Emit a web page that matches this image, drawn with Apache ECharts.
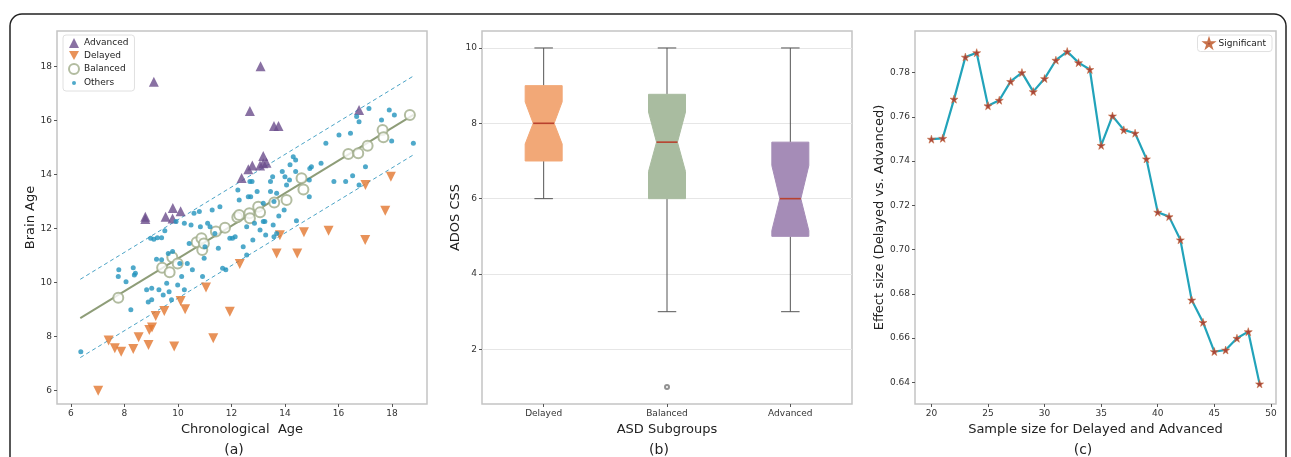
<!DOCTYPE html>
<html>
<head>
<meta charset="utf-8">
<script src="https://cdn.jsdelivr.net/npm/echarts@6/dist/echarts.min.js"></script>
<style>
  html, body { margin: 0; padding: 0; background: #fff; }
  #chart { width: 1291px; height: 457px; }
</style>
</head>
<body>
<div id="chart"></div>
<script>
// (a) brain age vs chronological age, [chronological, brain]
var advancedPts = [[9.10, 17.43], [13.09, 18.0], [12.69, 16.35], [13.59, 15.79], [13.76, 15.79], [16.77, 16.38],
    [8.78, 12.43], [8.78, 12.34], [9.54, 12.43], [9.81, 12.75], [9.80, 12.36], [10.10, 12.63],
    [12.38, 13.86], [12.63, 14.19], [12.78, 14.33], [13.19, 14.68], [13.19, 14.41], [13.31, 14.43], [13.07, 14.33]]
var delayedPts = [[7.02, 5.98], [7.41, 7.84], [7.64, 7.56], [7.88, 7.43], [8.33, 7.53], [8.53, 7.96], [8.90, 7.68],
    [8.93, 8.23], [9.03, 8.32], [9.17, 8.75], [9.49, 8.94], [9.86, 7.62], [10.10, 9.31], [10.27, 9.0],
    [11.05, 9.81], [11.32, 7.93], [11.94, 8.91], [12.31, 10.68], [13.69, 11.07], [13.81, 11.74],
    [14.46, 11.07], [14.71, 11.85], [15.63, 11.91], [17.0, 11.57], [17.01, 13.60], [17.75, 12.65], [17.96, 13.91]]
var balancedPts = [[7.77, 9.43], [9.41, 10.54], [9.69, 10.37], [9.79, 10.93], [9.99, 10.70], [10.70, 11.48],
    [10.88, 11.63], [10.91, 11.20], [10.97, 11.44], [11.42, 11.88], [11.76, 12.02], [12.22, 12.41],
    [12.29, 12.49], [12.67, 12.56], [12.69, 12.37], [13.0, 12.80], [13.07, 12.59], [13.60, 12.96],
    [14.06, 13.05], [14.62, 13.85], [14.69, 13.44], [16.37, 14.75], [16.74, 14.78], [17.09, 15.06],
    [17.65, 15.64], [17.68, 15.37], [18.67, 16.20]]
var otherPts = [[6.37, 7.43], [7.77, 10.21], [7.79, 10.46], [8.06, 10.02], [8.24, 8.98], [8.37, 10.27], [8.33, 10.54],
    [8.41, 10.33], [8.83, 9.72], [9.02, 9.78], [8.89, 9.27], [9.02, 9.35], [8.98, 11.63], [9.10, 11.59],
    [9.23, 11.65], [9.39, 11.65], [9.20, 10.85], [9.39, 10.83], [9.29, 9.72], [9.45, 9.53], [9.51, 11.91],
    [9.64, 11.07], [9.80, 11.14], [9.58, 9.96], [9.67, 9.65], [9.76, 9.35], [9.93, 12.25], [9.99, 9.90],
    [10.14, 10.21], [10.24, 9.72], [10.07, 10.70], [10.24, 12.19], [10.35, 10.70], [10.42, 11.44],
    [10.49, 12.12], [10.54, 10.46], [10.60, 12.56], [10.80, 12.62], [10.84, 12.06], [10.92, 10.21],
    [10.98, 10.89], [11.01, 11.32], [11.11, 12.19], [11.20, 12.06], [11.28, 12.68], [11.38, 11.81],
    [11.51, 11.26], [11.57, 12.80], [11.67, 10.52], [11.79, 10.46], [11.94, 11.63], [12.04, 11.63],
    [12.14, 11.69], [12.24, 13.42], [12.29, 13.05], [12.44, 11.32], [12.57, 12.06], [12.57, 11.01],
    [12.63, 13.17], [12.69, 13.73], [12.72, 13.17], [12.77, 13.73], [12.80, 11.57], [12.86, 12.19],
    [12.96, 13.36], [13.07, 11.94], [13.19, 12.25], [13.19, 12.93], [13.25, 12.25], [13.28, 11.75],
    [13.46, 13.73], [13.46, 13.36], [13.54, 13.91], [13.59, 12.99], [13.56, 12.12], [13.59, 11.69],
    [13.69, 11.81], [13.69, 13.30], [13.77, 12.46], [13.90, 14.10], [13.97, 12.68], [14.00, 13.91],
    [14.06, 13.60], [14.17, 13.79], [14.19, 14.35], [14.31, 14.65], [14.40, 14.10], [14.40, 14.53],
    [14.43, 12.28], [14.91, 13.79], [14.91, 13.17], [14.93, 14.22], [14.99, 14.28], [15.35, 14.41],
    [15.53, 15.15], [15.83, 13.73], [16.02, 15.46], [16.27, 13.73], [16.45, 15.52], [16.53, 13.95],
    [16.68, 16.14], [16.77, 15.95], [16.77, 13.60], [17.01, 14.28], [17.14, 16.44], [17.61, 16.01],
    [17.90, 16.38], [18.09, 16.20], [17.99, 15.23], [18.80, 15.15]]
var fitX = [6.35, 18.8]
var fitY = [8.67, 16.2]
var upperY = [10.11, 17.64]
var lowerY = [7.21, 14.72]
var ageTicks = [6, 8, 10, 12, 14, 16, 18]

// (b) ADOS CSS boxes
var groups = ['Delayed', 'Balanced', 'Advanced']
var boxLow = [6, 3, 3]
var boxQ1 = [7, 6, 5]
var notchLow = [7.45, 6.72, 5.15]
var boxMedian = [8, 7.5, 6]
var notchHigh = [8.57, 8.3, 6.88]
var boxQ3 = [9, 8.77, 7.5]
var boxHigh = [10, 10, 10]
var outliers = [['Balanced', 1]]
var adosTicks = [2, 4, 6, 8, 10]

// (c) effect size by sample size
var sampleSizes = [20, 21, 22, 23, 24, 25, 26, 27, 28, 29, 30, 31, 32, 33, 34, 35, 36, 37, 38, 39, 40, 41, 42, 43, 44, 45, 46, 47, 48, 49]
var effectSizes = [0.7499, 0.7503, 0.768, 0.787, 0.789, 0.765, 0.7675, 0.776, 0.780, 0.7714, 0.7773, 0.7856, 0.7895, 0.7845, 0.7814,
    0.7471, 0.7604, 0.7541, 0.7526, 0.741, 0.7169, 0.7149, 0.7044, 0.6772, 0.6671, 0.6539, 0.6546, 0.6599, 0.6629, 0.6393]
var sampleTicks = [20, 25, 30, 35, 40, 45, 50]
var effectTicks = [0.64, 0.66, 0.68, 0.70, 0.72, 0.74, 0.76, 0.78]

var FONT = 'DejaVu Sans'
var boxColors = ['#f2a877', '#a9bca0', '#a58cb7']
var starPath = 'path://M50,0 L61,35 L98,35 L68,57 L79,91 L50,70 L21,91 L32,57 L2,35 L39,35 Z'
var dotIcon = 'path://M0,0 M10,10 M3,5 A2,2 0 1 1 7,5 A2,2 0 1 1 3,5 Z'
var downTri = 'path://M0,0 L10,0 L5,9 Z'

function zip (xs, ys) {
    return xs.map(function (x, i) { return [x, ys[i]] })
}

function valueAxis (gridIndex, min, max, ticks, fmt) {
    return {
        type: 'value',
        gridIndex: gridIndex,
        min: min,
        max: max,
        axisLine: { show: false },
        axisTick: { show: true, length: 3, lineStyle: { color: '#555' }, customValues: ticks },
        axisLabel: { color: '#333', fontSize: 9, fontFamily: FONT, margin: 5, customValues: ticks, formatter: fmt },
        splitLine: { show: false },
        nameLocation: 'middle',
        nameTextStyle: { color: '#222', fontSize: 13, fontFamily: FONT }
    }
}

var chart = echarts.init(document.getElementById('chart'), null, { renderer: 'canvas' })

var xa = valueAxis(0, 5.48, 19.31, ageTicks)
xa.name = 'Chronological  Age'
xa.nameGap = 11
var ya = valueAxis(0, 5.49, 19.31, ageTicks)
ya.name = 'Brain Age'
ya.nameGap = 13

var yb = valueAxis(1, 0.55, 10.45, adosTicks)
yb.name = 'ADOS CSS'
yb.nameGap = 12
yb.splitLine = { show: true, lineStyle: { color: '#e6e6e6', width: 1 } }

var xc = valueAxis(2, 18.55, 50.45, sampleTicks)
xc.name = 'Sample size for Delayed and Advanced'
xc.nameGap = 11
var yc = valueAxis(2, 0.6302, 0.7988, effectTicks, function (v) { return v.toFixed(2) })
yc.name = 'Effect size (Delayed vs. Advanced)'
yc.nameGap = 24

var xb = {
    type: 'category',
    gridIndex: 1,
    data: groups,
    boundaryGap: true,
    axisLine: { show: false },
    axisTick: { show: true, alignWithLabel: true, length: 3, lineStyle: { color: '#555' } },
    axisLabel: { color: '#333', fontSize: 9, fontFamily: FONT, margin: 5 },
    name: 'ASD Subgroups',
    nameLocation: 'middle',
    nameGap: 11,
    nameTextStyle: { color: '#222', fontSize: 13, fontFamily: FONT }
}

var gridStyle = { show: true, borderColor: '#c4c4c4', borderWidth: 1.5, backgroundColor: '#fff' }

var option = {
    backgroundColor: '#fff',
    animation: false,
    textStyle: { fontFamily: FONT },
    title: [
        { text: '(a)', left: 229, top: 438, textAlign: 'center', textStyle: { fontSize: 14, fontWeight: 'normal', color: '#222', fontFamily: FONT } },
        { text: '(b)', left: 654, top: 438, textAlign: 'center', textStyle: { fontSize: 14, fontWeight: 'normal', color: '#222', fontFamily: FONT } },
        { text: '(c)', left: 1078, top: 438, textAlign: 'center', textStyle: { fontSize: 14, fontWeight: 'normal', color: '#222', fontFamily: FONT } }
    ],
    graphic: [{
        type: 'rect',
        shape: { x: 10, y: 14, width: 1276, height: 480, r: 12 },
        style: { fill: 'none', stroke: '#222', lineWidth: 1.5 },
        silent: true,
        z: -10
    }],
    grid: [
        Object.assign({ left: 57, top: 31, width: 370, height: 373 }, gridStyle),
        Object.assign({ left: 482, top: 31, width: 370, height: 373 }, gridStyle),
        Object.assign({ left: 915, top: 31, width: 361, height: 373 }, gridStyle)
    ],
    legend: [{
        orient: 'vertical',
        left: 63,
        top: 35,
        itemWidth: 10,
        itemHeight: 10,
        itemGap: 3,
        padding: [3, 6, 3, 5],
        borderColor: '#e0e0e0',
        borderWidth: 1,
        borderRadius: 3,
        backgroundColor: '#fff',
        textStyle: { fontSize: 9, color: '#222', fontFamily: FONT },
        data: [
            { name: 'Advanced', icon: 'triangle' },
            { name: 'Delayed', icon: downTri },
            { name: 'Balanced', icon: 'emptyCircle' },
            { name: 'Others', icon: dotIcon }
        ]
    }, {
        right: 19,
        top: 35,
        itemWidth: 9,
        itemHeight: 9,
        padding: [3, 6, 3, 6],
        borderColor: '#e0e0e0',
        borderWidth: 1,
        borderRadius: 3,
        backgroundColor: '#fff',
        textStyle: { fontSize: 9, color: '#222', fontFamily: FONT },
        data: [{ name: 'Significant', icon: starPath }]
    }],
    xAxis: [xa, xb, xc],
    yAxis: [ya, yb, yc],
    series: [
        {
            name: 'fit',
            type: 'line',
            xAxisIndex: 0,
            yAxisIndex: 0,
            data: zip(fitX, fitY),
            showSymbol: false,
            lineStyle: { color: '#8e9d78', width: 2 },
            z: 3
        },
        {
            name: 'upper',
            type: 'line',
            xAxisIndex: 0,
            yAxisIndex: 0,
            data: zip(fitX, upperY),
            showSymbol: false,
            lineStyle: { color: '#4aa3c6', width: 1, type: [4, 3] },
            z: 3
        },
        {
            name: 'lower',
            type: 'line',
            xAxisIndex: 0,
            yAxisIndex: 0,
            data: zip(fitX, lowerY),
            showSymbol: false,
            lineStyle: { color: '#4aa3c6', width: 1, type: [4, 3] },
            z: 3
        },
        {
            name: 'Advanced',
            type: 'scatter',
            xAxisIndex: 0,
            yAxisIndex: 0,
            symbol: 'triangle',
            symbolSize: 10,
            itemStyle: { color: '#6b4d8c' },
            data: advancedPts,
            z: 4
        },
        {
            name: 'Delayed',
            type: 'scatter',
            xAxisIndex: 0,
            yAxisIndex: 0,
            symbol: downTri,
            symbolSize: 10,
            itemStyle: { color: '#e2772f' },
            data: delayedPts,
            z: 4
        },
        {
            name: 'Balanced',
            type: 'scatter',
            xAxisIndex: 0,
            yAxisIndex: 0,
            symbol: 'emptyCircle',
            symbolSize: 10,
            itemStyle: { color: '#9fab88', borderWidth: 1 },
            data: balancedPts,
            z: 4
        },
        {
            name: 'Others',
            type: 'scatter',
            xAxisIndex: 0,
            yAxisIndex: 0,
            symbol: 'circle',
            symbolSize: 5,
            itemStyle: { color: '#2394bd' },
            data: otherPts,
            z: 5
        },
        {
            name: 'ados',
            type: 'custom',
            xAxisIndex: 1,
            yAxisIndex: 1,
            data: groups.map(function (g, i) {
                return [i, boxLow[i], boxQ1[i], notchLow[i], boxMedian[i], notchHigh[i], boxQ3[i], boxHigh[i]]
            }),
            encode: { x: 0, y: [1, 2, 3, 4, 5, 6, 7] },
            renderItem: function (params, api) {
                var i = api.value(0)
                var band = api.size([1, 0])[0]
                var hw = band * 0.15
                var nw = band * 0.085
                var cw = band * 0.075
                var p = function (v) { return api.coord([i, v]) }
                var lo = p(api.value(1))
                var q1 = p(api.value(2))
                var nl = p(api.value(3))
                var md = p(api.value(4))
                var nh = p(api.value(5))
                var q3 = p(api.value(6))
                var hi = p(api.value(7))
                var x = md[0]
                var whisker = { stroke: '#555', lineWidth: 1 }
                return {
                    type: 'group',
                    children: [
                        { type: 'line', shape: { x1: x, y1: q3[1], x2: x, y2: hi[1] }, style: whisker },
                        { type: 'line', shape: { x1: x, y1: q1[1], x2: x, y2: lo[1] }, style: whisker },
                        { type: 'line', shape: { x1: x - cw, y1: hi[1], x2: x + cw, y2: hi[1] }, style: whisker },
                        { type: 'line', shape: { x1: x - cw, y1: lo[1], x2: x + cw, y2: lo[1] }, style: whisker },
                        {
                            type: 'polygon',
                            shape: {
                                points: [
                                    [x - hw, q3[1]], [x + hw, q3[1]], [x + hw, nh[1]], [x + nw, md[1]], [x + hw, nl[1]],
                                    [x + hw, q1[1]], [x - hw, q1[1]], [x - hw, nl[1]], [x - nw, md[1]], [x - hw, nh[1]]
                                ]
                            },
                            style: { fill: boxColors[i], stroke: boxColors[i], lineWidth: 1 }
                        },
                        { type: 'line', shape: { x1: x - nw, y1: md[1], x2: x + nw, y2: md[1] }, style: { stroke: '#b8412e', lineWidth: 1.6 } }
                    ]
                }
            },
            z: 3
        },
        {
            name: 'outlier',
            type: 'scatter',
            xAxisIndex: 1,
            yAxisIndex: 1,
            symbol: 'emptyCircle',
            symbolSize: 4,
            itemStyle: { color: '#777', borderWidth: 0.8 },
            data: outliers
        },
        {
            name: 'Significant',
            type: 'line',
            xAxisIndex: 2,
            yAxisIndex: 2,
            data: zip(sampleSizes, effectSizes),
            symbol: starPath,
            symbolSize: 8,
            showAllSymbol: true,
            lineStyle: { color: '#22a3ba', width: 2.2 },
            itemStyle: { color: '#a8453a', borderColor: '#c8724a', borderWidth: 0.6 }
        }
    ]
}

chart.setOption(option)
</script>
</body>
</html>
